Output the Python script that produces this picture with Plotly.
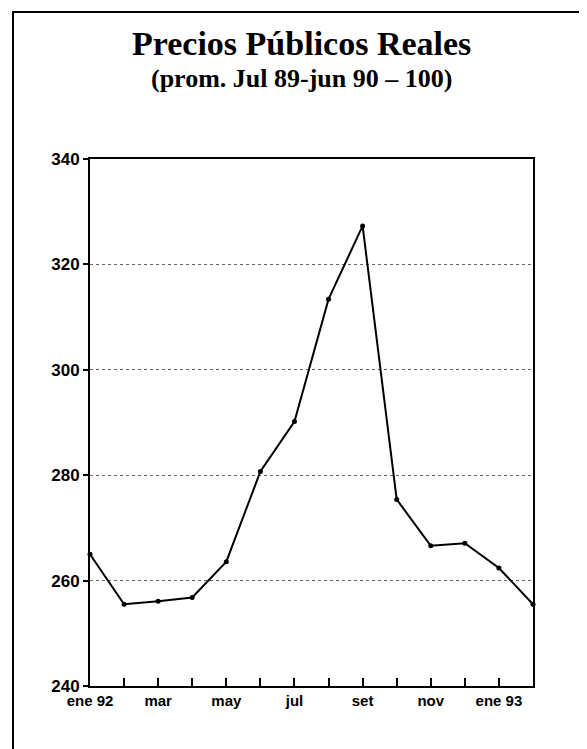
import plotly.graph_objects as go

months = ["ene 92", "feb", "mar", "abr", "may", "jun", "jul", "ago",
          "set", "oct", "nov", "dic", "ene 93", "feb 93"]
values = [265.0, 255.5, 256.1, 256.8, 263.6, 280.7, 290.2, 313.4,
          327.3, 275.4, 266.6, 267.1, 262.4, 255.5]
tick_text = ["ene 92", "", "mar", "", "may", "", "jul", "", "set", "",
             "nov", "", "ene 93", ""]
y_ticks = [240, 260, 280, 300, 320, 340]

x_idx = list(range(len(months)))

fig = go.Figure()
fig.add_trace(go.Scatter(
    x=x_idx, y=values, mode="lines+markers",
    line=dict(color="black", width=2),
    marker=dict(color="black", size=5),
    hovertext=months, showlegend=False, cliponaxis=False,
))

OFF = 8  # page body margin
W, H = 587 - OFF, 749 - OFF
L, R, T, B = 90 - OFF, 533 - OFF, 159 - OFF, 686 - OFF

fig.update_layout(
    width=W, height=H,
    margin=dict(l=L, r=W - R, t=T, b=H - B, pad=0),
    paper_bgcolor="white", plot_bgcolor="white",
    showlegend=False,
    xaxis=dict(
        range=[0, len(months) - 1], tickmode="array", tickvals=x_idx,
        ticktext=tick_text, ticks="inside", ticklen=8, tickwidth=2,
        tickcolor="black", showline=True, linecolor="black", linewidth=2,
        mirror=True, showgrid=False, zeroline=False,
        tickfont=dict(family="Liberation Sans", size=15, color="black", weight="bold"),
    ),
    yaxis=dict(
        range=[240, 340], tickmode="array", tickvals=y_ticks,
        ticks="outside", ticklen=5, tickwidth=1.5, tickcolor="black",
        showline=True, linecolor="black", linewidth=2, mirror=True,
        showgrid=True, gridcolor="#666666", griddash="dot", gridwidth=1,
        zeroline=False,
        tickfont=dict(family="Liberation Sans", size=17, color="black", weight="bold"),
    ),
    annotations=[
        dict(text="<b>Precios Públicos Reales</b>", x=301 - OFF, y=44 - OFF,
             xref="paper", yref="paper", showarrow=False,
             font=dict(family="Liberation Serif", size=34, color="black")),
        dict(text="<b>(prom. Jul 89-jun 90 – 100)</b>", x=301 - OFF, y=79 - OFF,
             xref="paper", yref="paper", showarrow=False,
             font=dict(family="Liberation Serif", size=26, color="black")),
    ],
)

def px_x(px):
    return (px - L) / (R - L)

def px_y(py):
    return (B - py) / (B - T)

for a in fig.layout.annotations:
    a.x = px_x(a.x)
    a.y = px_y(a.y)
    a.xanchor = "center"
    a.yanchor = "middle"

# outer frame (left and top edges visible; right/bottom beyond the page)
fig.add_shape(type="rect", xref="paper", yref="paper",
              x0=px_x(13 - OFF), x1=px_x(W + 30), y0=px_y(H + 30), y1=px_y(12 - OFF),
              line=dict(color="black", width=2), layer="above")

fig.write_html("out.html")
